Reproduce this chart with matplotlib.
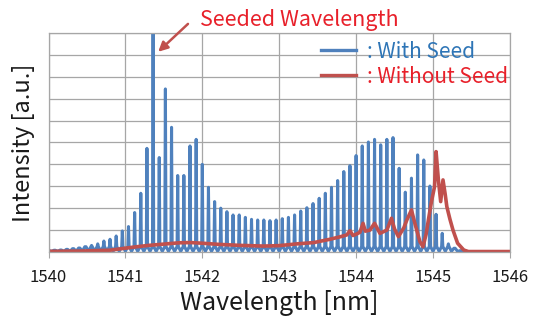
import matplotlib
matplotlib.use('Agg')
import matplotlib.pyplot as plt
from matplotlib.lines import Line2D

plt.rcParams['font.family'] = ['Noto Sans CJK KR', 'DejaVu Sans']

# with seed: comb peaks (nm) and their heights
peak_wl = [1540.00, 1540.08, 1540.16, 1540.24, 1540.32, 1540.40, 1540.48, 1540.56, 1540.64, 1540.72,
           1540.80, 1540.88, 1540.96, 1541.04, 1541.12, 1541.20, 1541.28, 1541.36, 1541.44, 1541.52,
           1541.60, 1541.68, 1541.76, 1541.84, 1541.92, 1542.00, 1542.08, 1542.16, 1542.24, 1542.32,
           1542.40, 1542.48, 1542.56, 1542.64, 1542.72, 1542.80, 1542.88, 1542.96, 1543.04, 1543.12,
           1543.20, 1543.28, 1543.36, 1543.44, 1543.52, 1543.60, 1543.68, 1543.76, 1543.84, 1543.92,
           1544.00, 1544.08, 1544.16, 1544.24, 1544.32, 1544.40, 1544.48, 1544.56, 1544.64, 1544.72,
           1544.80, 1544.88, 1544.96, 1545.04, 1545.12, 1545.20, 1545.28, 1545.36]
peak_val = [0.06, 0.08, 0.09, 0.12, 0.15, 0.18, 0.24, 0.30, 0.37, 0.50,
            0.58, 0.73, 0.96, 1.16, 1.80, 2.68, 4.73, 10.0, 4.31, 7.44,
            5.69, 3.49, 3.49, 4.84, 5.14, 4.00, 2.95, 2.30, 2.00, 1.84,
            1.69, 1.69, 1.58, 1.49, 1.46, 1.46, 1.43, 1.46, 1.52, 1.58,
            1.69, 1.87, 2.02, 2.21, 2.45, 2.68, 2.95, 3.26, 3.67, 3.94,
            4.40, 4.84, 5.02, 5.14, 4.89, 5.14, 5.22, 3.82, 2.73, 3.37,
            4.43, 4.20, 3.01, 1.72, 0.85, 0.37, 0.17, 0.06]
blue_floor = 0.03   # level between comb lines
blue_base = 0.25    # foot of each comb line

# without seed
red_wl = [1540.00, 1540.40, 1540.80, 1540.95, 1541.10, 1541.30, 1541.50, 1541.70, 1541.85, 1542.00,
          1542.20, 1542.50, 1542.80, 1543.00, 1543.23, 1543.45, 1543.66, 1543.80, 1543.88, 1543.92,
          1543.96, 1544.00, 1544.05, 1544.09, 1544.12, 1544.18, 1544.24, 1544.31, 1544.40, 1544.46,
          1544.50, 1544.55, 1544.62, 1544.66, 1544.72, 1544.77, 1544.83, 1544.87, 1544.91, 1544.94,
          1544.98, 1545.02, 1545.04, 1545.07, 1545.10, 1545.13, 1545.16, 1545.18, 1545.22, 1545.26,
          1545.32, 1545.40, 1545.46, 1546.00]
red_val = [0.03, 0.04, 0.08, 0.15, 0.22, 0.30, 0.36, 0.42, 0.43, 0.40,
           0.35, 0.30, 0.27, 0.29, 0.37, 0.43, 0.58, 0.70, 0.78, 0.97,
           0.75, 0.81, 0.90, 1.31, 0.95, 1.00, 1.31, 0.85, 1.00, 1.54,
           1.05, 0.70, 1.10, 1.46, 1.92, 1.23, 0.47, 0.24, 0.80, 1.46,
           2.30, 2.98, 4.58, 3.29, 2.30, 3.29, 2.60, 2.07, 1.50, 1.00,
           0.40, 0.09, 0.02, 0.02]

blue_c = '#4F81BD'
red_c = '#C0504D'
grid_c = '#A6A6A6'

# blue trace: narrow line per peak, dipping to the floor in between
bx, by = [], []
for w, h in zip(peak_wl, peak_val):
    base = min(h, blue_base)
    bx += [w - 0.008, w, w + 0.008, w + 0.04]
    by += [base, h, base, blue_floor]
bx += [1545.42, 1546.0]
by += [0.0, 0.0]

fig = plt.figure(figsize=(5.39, 3.32), dpi=100)
ax = fig.add_axes([0.09, 0.241, 0.856, 0.66])

ax.plot(bx, by, color=blue_c, lw=2.2)
ax.plot(red_wl, red_val, color=red_c, lw=2.6)

ax.set_xlim(1540, 1546)
ax.set_ylim(0, 10)
ax.set_xticks(range(1540, 1547))
ax.set_yticks(range(0, 11))
ax.set_yticklabels([])
ax.grid(True, color=grid_c, lw=0.9)
ax.set_axisbelow(True)
for s in ax.spines.values():
    s.set_color(grid_c)
    s.set_linewidth(0.9)
ax.tick_params(axis='y', length=0)
ax.tick_params(axis='x', length=4, color=grid_c, labelsize=12, labelcolor='#1a1a1a', pad=8)

ax.set_xlabel('Wavelength [nm]', fontsize=18, color='#1a1a1a', labelpad=3)
ax.set_ylabel('Intensity [a.u.]', fontsize=17, color='#1a1a1a', labelpad=6)

handles = [Line2D([], [], color=blue_c, lw=2.4), Line2D([], [], color=red_c, lw=2.4)]
ax.legend(handles, [': With Seed', ': Without Seed'], loc='upper left',
          bbox_to_anchor=(0.59, 0.965), frameon=False, fontsize=15,
          labelcolor=['#2E75B6', '#E8202A'], handlelength=1.7, handletextpad=0.5,
          labelspacing=0.15, borderpad=0, borderaxespad=0)

fig.text(200 / 539, 1 - 20 / 332, 'Seeded Wavelength', color='#E8202A', fontsize=15.5,
         ha='left', va='center')
ax.annotate('', xy=(1541.40, 9.05), xytext=(190 / 539, 1 - 22 / 332),
            textcoords='figure fraction', annotation_clip=False,
            arrowprops=dict(arrowstyle='-|>', color=red_c, lw=1.8, mutation_scale=14))

fig.savefig('out.png', dpi=100)
